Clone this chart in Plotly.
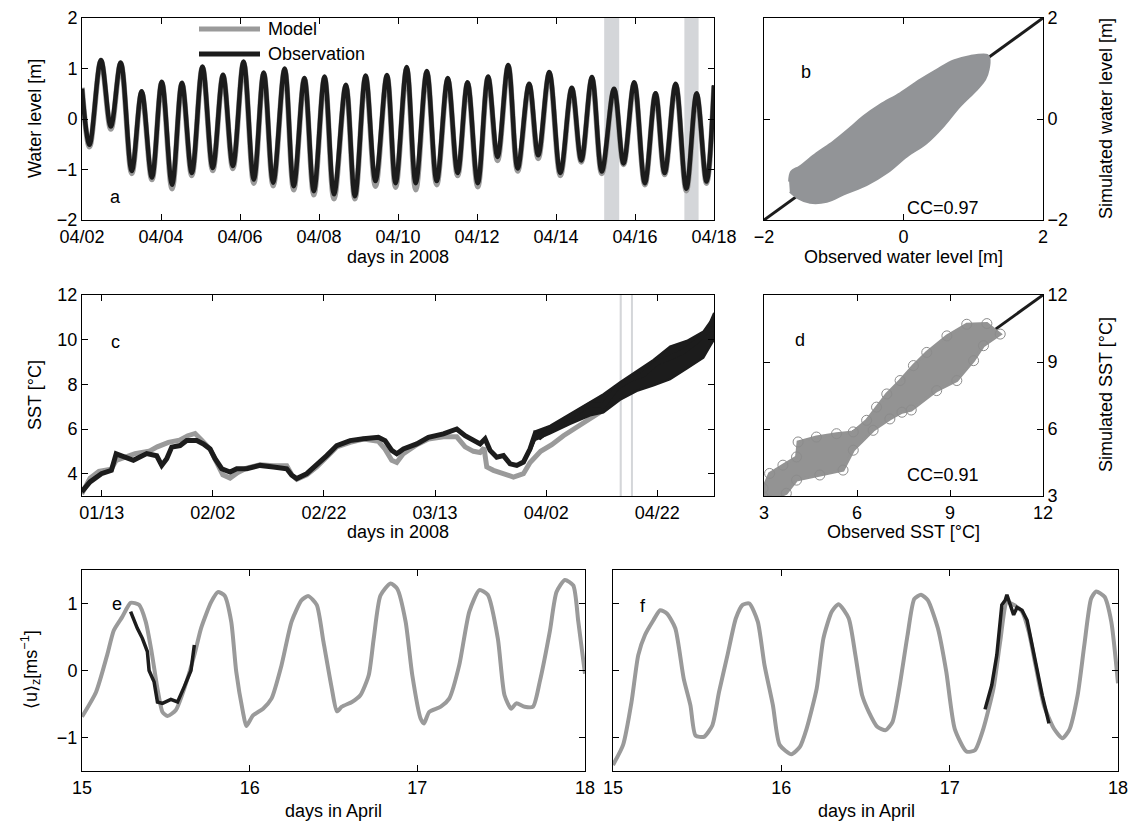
import pandas as pd
import plotly.graph_objects as go

W, H = 1129, 827
FONT = "Liberation Sans, Arial, Helvetica, sans-serif"
GRAY = "#9a9a9a"
BLACK = "#1c1c1c"
BAND = "#d4d6d9"

# ---------------- panel a : water level (days after 2008-04-02 00:00) ----------------
wl_t = [0.0, 0.19, 0.48, 0.73, 0.98, 1.26, 1.51, 1.77, 2.02, 2.28, 2.53, 2.78, 3.05, 3.31, 3.57,
        3.82, 4.09, 4.35, 4.60, 4.84, 5.13, 5.36, 5.63, 5.87, 6.14, 6.38, 6.68, 6.91, 7.18, 7.43,
        7.72, 7.94, 8.22, 8.45, 8.73, 8.98, 9.26, 9.51, 9.76, 10.02, 10.28, 10.52, 10.79, 11.03,
        11.32, 11.55, 11.83, 12.11, 12.40, 12.64, 12.91, 13.16, 13.47, 13.71, 13.98, 14.25, 14.52,
        14.75, 15.03, 15.30, 15.56, 15.81, 16.0]
wl_obs = [0.60, -0.51, 1.17, -0.15, 1.12, -1.03, 0.55, -1.16, 0.74, -1.30, 0.72, -1.07, 1.04, -0.97,
          0.875, -0.93, 1.14, -1.20, 0.92, -1.26, 1.00, -1.33, 0.81, -1.43, 0.84, -1.49, 0.68, -1.53,
          0.86, -1.23, 0.87, -1.27, 1.03, -1.27, 0.95, -1.23, 0.81, -1.07, 0.73, -1.27, 0.84, -0.75,
          1.07, -0.98, 0.70, -0.72, 0.93, -1.07, 0.62, -0.82, 0.83, -1.04, 0.60, -0.88, 0.73, -1.27,
          0.51, -1.07, 0.70, -1.38, 0.51, -1.24, 0.67]
wl_mod = [0.62, -0.55, 1.15, -0.20, 1.10, -1.08, 0.52, -1.20, 0.72, -1.38, 0.70, -1.12, 1.02, -1.02,
          0.86, -0.98, 1.12, -1.27, 0.90, -1.32, 0.98, -1.40, 0.80, -1.50, 0.82, -1.58, 0.66, -1.58,
          0.84, -1.33, 0.85, -1.35, 1.00, -1.40, 0.93, -1.30, 0.78, -1.12, 0.71, -1.34, 0.82, -0.82,
          1.05, -1.03, 0.67, -0.78, 0.90, -1.12, 0.60, -0.85, 0.80, -1.08, 0.58, -0.90, 0.70, -1.30,
          0.50, -1.10, 0.68, -1.42, 0.48, -1.27, 0.65]
series_names = ["Model", "Observation"]

# shaded windows (days in April)
win_start = [15.22, 17.25]
win_end = [15.60, 17.61]

# ---------------- panel b : cloud of (observed, simulated) water level ----------------
wlsc_obs = [-1.64, -1.61, -1.49, -1.25, -1.01, -0.77, -0.58, -0.34, -0.05, 0.24, 0.48, 0.72, 0.96,
            1.20, 1.23, 1.22, 1.17, 1.05, 0.81, 0.57, 0.33, 0.05, -0.24, -0.53, -0.82, -1.10, -1.34,
            -1.51, -1.63]
wlsc_sim = [-1.24, -1.04, -0.94, -0.68, -0.45, -0.18, 0.05, 0.28, 0.51, 0.78, 0.98, 1.16, 1.25,
            1.27, 1.21, 0.98, 0.78, 0.58, 0.25, -0.15, -0.48, -0.74, -1.07, -1.31, -1.47, -1.64, -1.66,
            -1.57, -1.44]

# ---------------- panel c : SST (days after 2008-01-13 00:00) ----------------
sst_t_obs = [-3.6, -2.1, -0.06, 1.74, 2.6, 3.5, 5.7, 8.1, 9.9, 10.8, 11.7, 12.6, 14.1, 15.3, 17.1,
             18.3, 19.5, 20.4, 21.6, 23.1, 24.3, 26.1, 28.5, 30.9, 33.3, 34.2, 35.1, 36.9, 38.7, 40.5,
             42.3, 44.7, 47.1, 49.8, 51.0, 52.2, 53.1, 54.3, 56.7, 58.8, 61.5, 63.9, 65.4, 66.9, 68.1,
             69.0, 69.9, 71.1, 72.3, 73.5, 74.7, 75.9, 77.1, 78.0, 78.9, 80.7, 83.1, 85.5, 87.9, 90.3,
             92.7, 95.1, 97.5, 99.9, 102.3, 104.7, 107.1, 108.9, 110.2]
sst_obs = [3.19, 3.63, 4.0, 4.15, 4.89, 4.8, 4.6, 4.9, 4.8, 4.37, 4.67, 5.19, 5.26, 5.48, 5.48,
           5.33, 5.11, 4.67, 4.22, 4.07, 4.22, 4.22, 4.37, 4.3, 4.22, 3.93, 3.78, 4.0, 4.37, 4.81,
           5.26, 5.48, 5.56, 5.63, 5.48, 5.04, 4.89, 5.11, 5.33, 5.63, 5.78, 6.0, 5.7, 5.48, 5.33,
           5.56, 5.04, 4.74, 4.81, 4.44, 4.37, 4.52, 5.11, 5.78, 5.63, 6.0, 6.37, 6.74, 7.11, 7.04,
           7.85, 8.22, 8.44, 8.96, 9.19, 9.48, 9.93, 10.37, 10.52]
# spread of the (tidally oscillating) observation late in the record
sst_t_band = [77.1, 78.0, 80.7, 84.3, 87.9, 90.3, 93.3, 96.3, 99.3, 102.3, 105.3, 108.3, 109.5, 110.2]
sst_band_hi = [5.2, 5.9, 6.15, 6.67, 7.2, 7.56, 8.1, 8.59, 9.1, 9.7, 9.95, 10.37, 10.8, 11.2]
sst_band_lo = [5.0, 5.5, 5.8, 6.22, 6.6, 6.74, 7.3, 7.7, 7.95, 8.22, 8.7, 9.19, 9.7, 10.0]
sst_t_mod = [-3.6, -2.1, -0.5, 1.7, 2.6, 4.0, 6.0, 8.5, 10.0, 12.0, 14.0, 15.5, 16.8, 18.0, 19.5,
             20.5, 21.8, 23.1, 24.5, 26.1, 28.5, 30.9, 33.3, 34.2, 35.1, 36.9, 38.7, 40.5, 42.3, 44.7,
             47.1, 49.8, 51.0, 52.2, 53.1, 54.3, 56.7, 58.8, 61.5, 63.9, 65.4, 66.9, 68.1, 68.8, 69.3,
             70.5, 72.3, 74.1, 75.9, 77.1, 79.0, 81.0, 83.1, 85.5, 88.5, 90.3, 92.7, 95.1, 97.5, 99.9,
             102.3, 104.7, 107.1, 110.2]
sst_mod = [3.1, 3.8, 4.1, 4.2, 4.6, 4.7, 4.9, 5.0, 5.2, 5.4, 5.5, 5.7, 5.8, 5.5, 5.1,
           4.6, 3.95, 3.8, 4.05, 4.25, 4.4, 4.35, 4.35, 3.95, 3.75, 3.95, 4.3, 4.75, 5.2, 5.4,
           5.55, 5.45, 5.1, 4.6, 4.5, 4.9, 5.3, 5.55, 5.65, 5.65, 5.2, 5.0, 4.95, 5.15, 4.3,
           4.15, 4.0, 3.85, 4.0, 4.5, 5.0, 5.3, 5.7, 6.1, 6.55, 6.85, 7.5, 8.0, 8.2, 8.35,
           8.5, 9.0, 9.5, 10.4]
c_range_days = [-3.55, 110.2]

# ---------------- panel d : cloud of (observed, simulated) SST ----------------
sstsc_obs = [2.97, 3.18, 3.61, 4.05, 4.10, 4.69, 5.34, 5.88, 6.31, 6.63, 6.96, 7.39, 7.82, 8.25, 8.90,
             9.54, 10.19, 10.62, 10.08, 9.76, 9.22, 8.57, 7.75, 7.45, 7.06, 6.52, 5.88, 5.55, 4.80,
             4.05, 3.72, 3.18, 2.97]
sstsc_sim = [3.34, 4.01, 4.38, 4.75, 5.42, 5.64, 5.79, 5.87, 6.39, 6.98, 7.57, 8.17, 8.84, 9.43, 10.17,
             10.69, 10.72, 10.25, 9.73, 9.06, 8.17, 7.72, 6.85, 6.75, 6.45, 5.94, 5.05, 4.16, 3.94,
             3.71, 3.12, 2.79, 2.97]

# ---------------- panel e / f : depth-mean velocity (days in April) ----------------
e_t_mod = [15.0, 15.084, 15.15, 15.19, 15.24, 15.29, 15.34, 15.38, 15.415, 15.45, 15.48, 15.51, 15.56,
           15.61, 15.67, 15.71, 15.77, 15.81, 15.85, 15.89, 15.92, 15.96, 15.98, 16.02, 16.08, 16.13,
           16.19, 16.25, 16.31, 16.35, 16.40, 16.44, 16.49, 16.52, 16.55, 16.61, 16.66, 16.71, 16.74,
           16.78, 16.84, 16.88, 16.93, 16.97, 17.02, 17.04, 17.07, 17.14, 17.19, 17.25, 17.31, 17.37,
           17.42, 17.48, 17.52, 17.56, 17.59, 17.64, 17.69, 17.73, 17.79, 17.83, 17.88, 17.93, 17.96, 18.0]
e_mod = [-0.69, -0.32, 0.23, 0.6, 0.8, 1.01, 0.98, 0.73, 0.28, -0.27, -0.62, -0.68, -0.59, -0.27, 0.23,
         0.63, 1.02, 1.17, 1.12, 0.73, -0.02, -0.62, -0.83, -0.67, -0.57, -0.42, 0.08, 0.73, 1.05, 1.11,
         0.98, 0.43, -0.27, -0.61, -0.54, -0.47, -0.37, -0.07, 0.48, 1.12, 1.30, 1.22, 0.73, -0.07,
         -0.72, -0.79, -0.62, -0.54, -0.42, 0.08, 0.88, 1.2, 1.13, 0.48, -0.37, -0.57, -0.49, -0.54,
         -0.54, -0.17, 0.58, 1.17, 1.35, 1.27, 0.73, -0.05]
e_t_obs = [15.29, 15.33, 15.36, 15.39, 15.40, 15.43, 15.45, 15.48, 15.53, 15.57, 15.61, 15.65, 15.67]
e_obs = [0.88, 0.63, 0.48, 0.28, 0.0, -0.17, -0.47, -0.49, -0.43, -0.47, -0.24, 0.0, 0.38]

f_t_mod = [15.0, 15.06, 15.11, 15.15, 15.19, 15.24, 15.28, 15.32, 15.37, 15.42, 15.46, 15.49, 15.54,
           15.59, 15.63, 15.68, 15.73, 15.77, 15.81, 15.86, 15.90, 15.95, 15.99, 16.06, 16.11, 16.15,
           16.21, 16.25, 16.30, 16.34, 16.40, 16.44, 16.48, 16.52, 16.57, 16.62, 16.66, 16.70, 16.75,
           16.79, 16.83, 16.87, 16.93, 16.98, 17.03, 17.10, 17.15, 17.20, 17.26, 17.30, 17.34, 17.38,
           17.43, 17.47, 17.51, 17.56, 17.62, 17.67, 17.71, 17.76, 17.80, 17.84, 17.87, 17.92, 17.96, 18.0]
f_mod = [-1.41, -1.11, -0.47, 0.23, 0.53, 0.75, 0.9, 0.85, 0.63, -0.12, -0.52, -0.97, -0.99, -0.82,
         -0.32, 0.23, 0.78, 0.98, 1.0, 0.73, 0.08, -0.52, -1.11, -1.25, -1.14, -0.87, -0.27, 0.48, 0.88,
         0.99, 0.78, 0.23, -0.37, -0.62, -0.84, -0.89, -0.77, -0.27, 0.53, 1.07, 1.13, 1.05, 0.63,
         -0.02, -0.87, -1.21, -1.19, -0.87, -0.27, 0.43, 1.02, 0.98, 0.88, 0.58, 0.08, -0.52, -0.87,
         -1.01, -0.89, -0.37, 0.38, 1.07, 1.18, 1.10, 0.73, -0.19]
f_t_obs = [17.21, 17.25, 17.28, 17.31, 17.33, 17.34, 17.36, 17.38, 17.40, 17.43, 17.46, 17.49, 17.52,
           17.55, 17.59]
f_obs = [-0.58, -0.22, 0.23, 0.98, 1.05, 1.13, 0.98, 0.83, 0.94, 0.9, 0.75, 0.38, -0.02, -0.37, -0.79]

# ---------------- helpers ----------------
BASE_A = pd.Timestamp("2008-04-02")
BASE_C = pd.Timestamp("2008-01-13")
APR0 = pd.Timestamp("2008-04-01")


def dt(base, days):
    return [(base + pd.Timedelta(days=float(d))).strftime("%Y-%m-%d %H:%M:%S") for d in days]


def april(days):
    return dt(APR0, [d - 1 for d in days])


def px(x):
    return x / W


def py(y):
    return 1 - y / H


def xdom(x0, x1):
    return [px(x0), px(x1)]


def ydom(y0, y1):
    return [py(y1), py(y0)]


fig = go.Figure()

# a
fig.add_trace(go.Scatter(x=dt(BASE_A, wl_t), y=wl_mod, mode="lines", name=series_names[0],
                         line=dict(color=GRAY, width=5.5, shape="spline", smoothing=1.0),
                         showlegend=False, xaxis="x", yaxis="y"))
fig.add_trace(go.Scatter(x=dt(BASE_A, wl_t), y=wl_obs, mode="lines", name=series_names[1],
                         line=dict(color=BLACK, width=4.5, shape="spline", smoothing=1.0),
                         showlegend=False, xaxis="x", yaxis="y"))
# b
fig.add_trace(go.Scatter(x=[-2, 2], y=[-2, 2], mode="lines", line=dict(color=BLACK, width=3),
                         showlegend=False, xaxis="x2", yaxis="y2"))
fig.add_trace(go.Scatter(x=wlsc_obs, y=wlsc_sim, mode="lines", fill="toself", fillcolor="#929497",
                         line=dict(color="#929497", width=2, shape="spline"), showlegend=False,
                         xaxis="x2", yaxis="y2"))
# c
fig.add_trace(go.Scatter(x=dt(BASE_C, sst_t_mod), y=sst_mod, mode="lines",
                         line=dict(color=GRAY, width=5), showlegend=False, xaxis="x3", yaxis="y3"))
band_x = dt(BASE_C, sst_t_band) + dt(BASE_C, sst_t_band[::-1])
band_y = sst_band_hi + sst_band_lo[::-1]
fig.add_trace(go.Scatter(x=band_x, y=band_y, mode="lines", fill="toself", fillcolor=BLACK,
                         line=dict(color=BLACK, width=2), showlegend=False, xaxis="x3", yaxis="y3"))
fig.add_trace(go.Scatter(x=dt(BASE_C, sst_t_obs), y=sst_obs, mode="lines",
                         line=dict(color=BLACK, width=5), showlegend=False, xaxis="x3", yaxis="y3"))
# d
fig.add_trace(go.Scatter(x=[3, 12], y=[3, 12], mode="lines", line=dict(color=BLACK, width=3),
                         showlegend=False, xaxis="x4", yaxis="y4"))
fig.add_trace(go.Scatter(x=sstsc_obs, y=sstsc_sim, mode="lines+markers", fill="toself",
                         fillcolor="#939393", line=dict(color="#939393", width=3),
                         marker=dict(symbol="circle-open", size=10, color="#8c8c8c", line=dict(width=1)),
                         showlegend=False, xaxis="x4", yaxis="y4"))
# e
fig.add_trace(go.Scatter(x=e_t_mod, y=e_mod, mode="lines", line=dict(color=GRAY, width=4, shape="spline", smoothing=0.6),
                         showlegend=False, xaxis="x5", yaxis="y5"))
fig.add_trace(go.Scatter(x=e_t_obs, y=e_obs, mode="lines", line=dict(color=BLACK, width=3.5),
                         showlegend=False, xaxis="x5", yaxis="y5"))
# f
fig.add_trace(go.Scatter(x=f_t_mod, y=f_mod, mode="lines", line=dict(color=GRAY, width=4, shape="spline", smoothing=0.6),
                         showlegend=False, xaxis="x6", yaxis="y6"))
fig.add_trace(go.Scatter(x=f_t_obs, y=f_obs, mode="lines", line=dict(color=BLACK, width=3.5),
                         showlegend=False, xaxis="x6", yaxis="y6"))

# shaded windows
shapes = []
for s, e in zip(win_start, win_end):
    for xr, yr in (("x", "y domain"), ("x3", "y3 domain")):
        x0, x1 = april([s, e])
        shapes.append(dict(type="rect", xref=xr, yref=yr, x0=x0, x1=x1, y0=0, y1=1,
                           fillcolor=BAND, line=dict(width=0), layer="below"))
# legend samples of panel a
for yy, col in ((29, GRAY), (54, BLACK)):
    shapes.append(dict(type="line", xref="paper", yref="paper", x0=px(199), x1=px(260),
                       y0=py(yy), y1=py(yy), line=dict(color=col, width=5)))

ax = dict(showline=True, linecolor="black", linewidth=1, mirror="ticks", ticks="inside",
          ticklen=6, tickcolor="black", showgrid=False, zeroline=False, automargin=False,
          tickfont=dict(size=18, color="black", family=FONT))

layout = dict(
    width=W, height=H, margin=dict(l=0, r=0, t=0, b=0, pad=0), autosize=False,
    paper_bgcolor="white", plot_bgcolor="white",
    font=dict(family=FONT, size=18, color="black"),
    shapes=shapes,
    showlegend=False,
    xaxis=dict(ax, domain=xdom(82, 714), anchor="y", type="date",
               range=dt(BASE_A, [0, 16]), tick0="2008-04-02", dtick=2 * 86400000, tickformat="%m/%d"),
    yaxis=dict(ax, domain=ydom(18, 220), anchor="x", range=[-2, 2], tickvals=[-2, -1, 0, 1, 2]),
    xaxis2=dict(ax, domain=xdom(764, 1043), anchor="y2", range=[-2, 2], tickvals=[-2, 0, 2]),
    yaxis2=dict(ax, domain=ydom(18, 220), anchor="x2", range=[-2, 2], tickvals=[-2, 0, 2], side="right"),
    xaxis3=dict(ax, domain=xdom(82, 714), anchor="y3", type="date",
                range=dt(BASE_C, c_range_days), tick0="2008-01-13", dtick=20 * 86400000, tickformat="%m/%d"),
    yaxis3=dict(ax, domain=ydom(295, 496), anchor="x3", range=[3, 12], tickvals=[4, 6, 8, 10, 12]),
    xaxis4=dict(ax, domain=xdom(764, 1043), anchor="y4", range=[3, 12], tickvals=[3, 6, 9, 12]),
    yaxis4=dict(ax, domain=ydom(295, 496), anchor="x4", range=[3, 12], tickvals=[3, 6, 9, 12], side="right"),
    xaxis5=dict(ax, domain=xdom(82, 585), anchor="y5", range=[15, 18], tickvals=[15, 16, 17, 18]),
    yaxis5=dict(ax, domain=ydom(570, 771), anchor="x5", range=[-1.5, 1.5], tickvals=[-1, 0, 1]),
    xaxis6=dict(ax, domain=xdom(613, 1118), anchor="y6", range=[15, 18], tickvals=[15, 16, 17, 18]),
    yaxis6=dict(ax, domain=ydom(570, 771), anchor="x6", range=[-1.5, 1.5], tickvals=[-1, 0, 1],
                showticklabels=False),
)
fig.update_layout(**layout)


def ann(xp, yp, text, angle=0, size=18, xanchor="center"):
    fig.add_annotation(x=px(xp), y=py(yp), xref="paper", yref="paper", text=text,
                       showarrow=False, textangle=angle, xanchor=xanchor, yanchor="middle",
                       font=dict(size=size, family=FONT, color="black"))


ann(266, 29, series_names[0], xanchor="left")
ann(266, 54, series_names[1], xanchor="left")
ann(116, 197, "a")
ann(806, 72, "b")
ann(115, 342, "c")
ann(800, 340, "d")
ann(117, 604, "e")
ann(643, 606, "f")
ann(943, 208, "CC=0.97")
ann(943, 475, "CC=0.91")
ann(35, 119, "Water level [m]", -90)
ann(35, 395, "SST [°C]", -90)
ann(30, 670, "⟨u⟩<sub>z</sub>[ms<sup>−1</sup>]", -90)
ann(398, 257, "days in 2008")
ann(398, 532, "days in 2008")
ann(903, 257, "Observed water level [m]")
ann(903, 532, "Observed SST [°C]")
ann(1106, 119, "Simulated water level [m]", -90)
ann(1106, 395, "Simulated SST [°C]", -90)
ann(333, 811, "days in April")
ann(866, 811, "days in April")

# remove the browser's default 8 px page margin so the 1129x827 figure fills the window
fig.write_html("out.html", config={"displayModeBar": False},
               post_script="document.body.style.margin='0';document.body.style.overflow='hidden';")
